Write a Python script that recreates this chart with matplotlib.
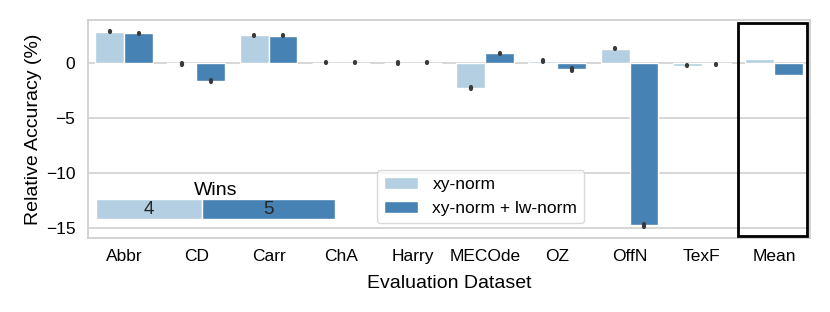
import numpy as np
import matplotlib
matplotlib.use("Agg")
from matplotlib import pyplot as plt
from matplotlib.patches import Rectangle

plt.rcParams['font.family'] = ['Liberation Sans', 'DejaVu Sans']
plt.rcParams['font.size'] = 12

# -----------------------------
# Data
# -----------------------------
datasets = ["Abbr", "CD", "Carr", "ChA", "Harry", "MECOde", "OZ", "OffN", "TexF", "Mean"]
series_names = ["xy-norm", "xy-norm + lw-norm"]
xy_norm = [2.85, -0.12, 2.5, 0.02, -0.05, -2.3, 0.15, 1.3, -0.25, 0.35]
xy_lw_norm = [2.7, -1.65, 2.45, 0.02, 0.02, 0.85, -0.6, -14.8, -0.15, -1.15]
xy_err = [0.05, 0.1, 0.05, 0.02, 0.08, 0.12, 0.1, 0.08, 0.05, 0.0]
xy_lw_err = [0.05, 0.1, 0.05, 0.02, 0.02, 0.08, 0.1, 0.12, 0.05, 0.0]
wins = [4, 5]

colors = ["#b3cfe1", "#4682b4"]
grid_grey = "#d0d0d0"

fig = plt.figure(figsize=(8.3, 3.12), dpi=100)
ax = fig.add_axes([0.106, 0.237, 0.870, 0.699])

x = np.arange(len(datasets))
w = 0.4
for i, (vals, errs) in enumerate([(xy_norm, xy_err), (xy_lw_norm, xy_lw_err)]):
    pos = x + (i - 0.5) * w
    ax.bar(pos, vals, width=w, color=colors[i], edgecolor="white", linewidth=1,
           label=series_names[i], zorder=2)
    n = len(datasets) - 1  # no error bar on the mean column
    eb = ax.errorbar(pos[:n], vals[:n], yerr=errs[:n], fmt="none", ecolor="#3a3a3a",
                     elinewidth=3.0, capsize=0, zorder=3)
    for lc in eb.lines[2]:
        lc.set_capstyle("round")

ax.set_xlim(-0.5, len(datasets) - 0.5)
ax.set_ylim(-15.95, 3.9)
ax.set_yticks([0, -5, -10, -15])
ax.set_yticklabels(["0", "\u22125", "\u221210", "\u221215"])
ax.set_xticks(x)
ax.set_xticklabels(datasets)
ax.tick_params(axis="y", length=0, pad=9, labelsize=12.5)
ax.tick_params(axis="x", length=0, pad=8, labelsize=12.5)
ax.yaxis.grid(True, color=grid_grey, linewidth=1.2, zorder=0)
ax.set_axisbelow(True)
for s in ax.spines.values():
    s.set_color(grid_grey)
    s.set_linewidth(1.3)

ax.set_xlabel("Evaluation Dataset", fontsize=14, labelpad=8)
ax.set_ylabel("Relative Accuracy (%)", fontsize=14, labelpad=3)

# box around the Mean column
ax.add_patch(Rectangle((8.5, -15.73), 0.96, 19.37, fill=False, edgecolor="black",
                       linewidth=2, zorder=5, clip_on=False))

leg = ax.legend(loc="lower left", bbox_to_anchor=(0.40, 0.069), borderaxespad=0,
                frameon=True, handlelength=2.0, fontsize=12.5)
leg.get_frame().set_edgecolor(grid_grey)

# Wins inset
iax = fig.add_axes([0.1157, 0.298, 0.288, 0.064])
left = 0
for k, v in enumerate(wins):
    iax.barh(0, v, left=left, height=1, color=colors[k], edgecolor="white", linewidth=1)
    iax.text(left + v / 2, 0, str(v), ha="center", va="center", fontsize=13.5, color="#262626")
    left += v
iax.set_xlim(0, sum(wins))
iax.set_ylim(-0.5, 0.5)
iax.axis("off")
iax.set_title("Wins", fontsize=14, pad=2)

plt.savefig("out.png", dpi=100)
